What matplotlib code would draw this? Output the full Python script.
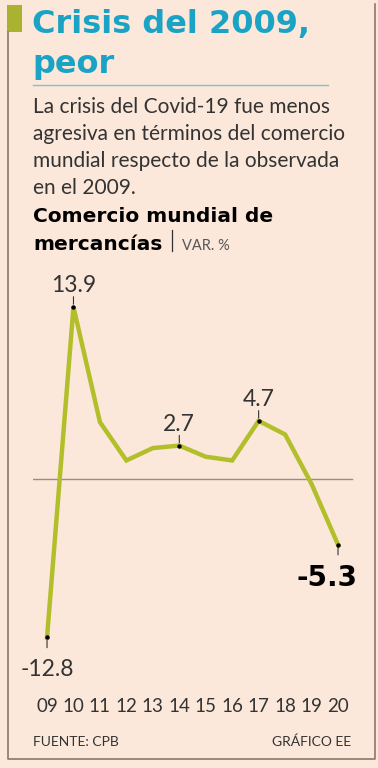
import matplotlib.pyplot as plt
import numpy as np
from matplotlib.lines import Line2D
from matplotlib.patches import Rectangle

years = ['09', '10', '11', '12', '13', '14', '15', '16', '17', '18', '19', '20']
values = [-12.8, 13.9, 4.6, 1.5, 2.5, 2.7, 1.8, 1.5, 4.7, 3.6, -0.4, -5.3]
# points that carry a value label: index -> above / below
labeled = {0: 'below', 1: 'above', 5: 'above', 8: 'above', 11: 'below'}

bg = '#fbe8da'
cyan = '#1ba3c6'
green = '#b3bf2a'
dark = '#333333'
heavy = ['DejaVu Sans']

plt.rcParams['font.family'] = ['Lato', 'DejaVu Sans']

W, H = 378, 768
fig = plt.figure(figsize=(W / 100, H / 100), dpi=100, facecolor=bg)


def fx(px):
    return px / W


def fy(py):
    return 1 - py / H


# frame
fig.add_artist(Rectangle((fx(7), fy(32)), fx(15), 27 / H, transform=fig.transFigure,
                         color='#a9b330', lw=0))
fig.add_artist(Line2D([fx(8), fx(8), fx(375), fx(375)], [fy(32), fy(759), fy(759), fy(4)],
                      transform=fig.transFigure, color='#8c7868', lw=1.2))

# headline
fig.text(fx(32), fy(33), 'Crisis del 2009,', color=cyan, fontsize=23, fontweight='bold',
         family=heavy, va='baseline', ha='left')
fig.text(fx(32), fy(73), 'peor', color=cyan, fontsize=23, fontweight='bold',
         family=heavy, va='baseline', ha='left')
fig.add_artist(Line2D([fx(33), fx(328)], [fy(85), fy(85)], transform=fig.transFigure,
                      color='#7cc3cf', lw=1))

sub = ['La crisis del Covid-19 fue menos',
       'agresiva en términos del comercio',
       'mundial respecto de la observada',
       'en el 2009.']
for i, line in enumerate(sub):
    fig.text(fx(33), fy(113 + 27 * i), line, color=dark, fontsize=15,
             va='baseline', ha='left')

fig.text(fx(33), fy(222), 'Comercio mundial de', color='black', fontsize=14.5,
         fontweight='bold', family=heavy, va='baseline', ha='left')
fig.text(fx(33), fy(250), 'mercancías', color='black', fontsize=14.5,
         fontweight='bold', family=heavy, va='baseline', ha='left')
fig.add_artist(Line2D([fx(172), fx(172)], [fy(230), fy(251)], transform=fig.transFigure,
                      color=dark, lw=0.9))
fig.text(fx(182), fy(250), 'VAR. %', color='#555555', fontsize=10.5,
         va='baseline', ha='left')

# chart
x = np.arange(len(years))
ax = fig.add_axes([fx(33), fy(660), 323 / W, 370 / H])
ax.set_facecolor('none')
ax.set_xlim(-0.53, 11.68)
ax.set_ylim(-14.62, 15.27)
ax.axhline(0, xmin=0, xmax=(352 - 33) / 323, color='#9a8c82', lw=1)
ax.plot(x, values, color=green, lw=3.2, solid_joinstyle='miter', zorder=3)

for i, pos in labeled.items():
    v = values[i]
    ax.plot(x[i], v, 'o', color='black', ms=2.2, zorder=4)
    if pos == 'above':
        ax.annotate('', xy=(x[i], v), xytext=(0, 13), textcoords='offset pixels',
                    arrowprops=dict(arrowstyle='-', color=dark, lw=0.8))
        ax.annotate(f'{v:.1f}', xy=(x[i], v), xytext=(0, 11), textcoords='offset pixels',
                    ha='center', va='bottom', fontsize=16.5, color=dark)
    else:
        ax.annotate('', xy=(x[i], v), xytext=(0, -13), textcoords='offset pixels',
                    arrowprops=dict(arrowstyle='-', color=dark, lw=0.8))
        if i == len(values) - 1:
            ax.annotate(f'{v:.1f}', xy=(x[i], v), xytext=(-11, -19), textcoords='offset pixels',
                        ha='center', va='top', fontsize=20, fontweight='bold',
                        family=heavy, color='black')
        else:
            ax.annotate(f'{v:.1f}', xy=(x[i], v), xytext=(0, -22), textcoords='offset pixels',
                        ha='center', va='top', fontsize=16.5, color=dark)

ax.set_xticks(x)
ax.set_xticklabels(years)
ax.tick_params(axis='x', length=0, pad=27, labelsize=13.5, labelcolor=dark)
ax.set_yticks([])
for s in ax.spines.values():
    s.set_visible(False)

# footer
fig.text(fx(33), fy(746), 'FUENTE: CPB', color=dark, fontsize=10,
         va='baseline', ha='left')
fig.text(fx(351), fy(746), 'GRÁFICO EE', color=dark, fontsize=10,
         va='baseline', ha='right')

fig.savefig('out.png', dpi=100, facecolor=bg)
